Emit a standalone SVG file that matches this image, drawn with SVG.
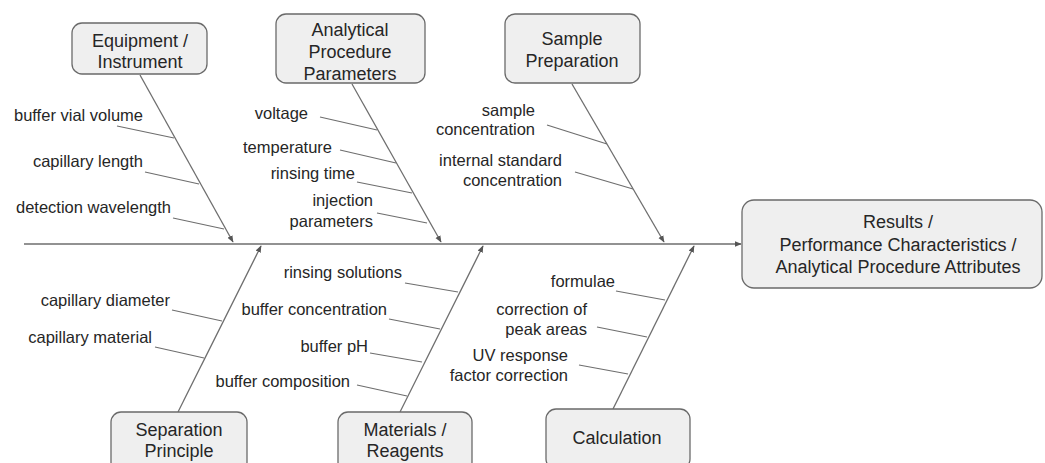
<svg xmlns="http://www.w3.org/2000/svg" width="1045" height="463" viewBox="0 0 1045 463">
<style>
.box{fill:#efefef;stroke:#6a6a6a;stroke-width:1.3}
.bt{font-family:"Liberation Sans",Arial,sans-serif;font-size:18px;fill:#262626;text-anchor:middle}
.lt{font-family:"Liberation Sans",Arial,sans-serif;font-size:16.5px;fill:#262626;text-anchor:end}
.bone{stroke:#6e6e6e;stroke-width:1.3;fill:none}
.sub{stroke:#6e6e6e;stroke-width:1.2;fill:none}
</style>
<defs>
<marker id="ah" viewBox="0 0 10 10" refX="9" refY="5" markerWidth="7" markerHeight="7" markerUnits="userSpaceOnUse" orient="auto">
<path d="M0,1 L10,5 L0,9 Z" fill="#555"/>
</marker>
</defs>
<rect width="1045" height="463" fill="#ffffff"/>
<g id="connectors">
<line class="bone" x1="24" y1="244" x2="741" y2="244" marker-end="url(#ah)"/>
<line class="bone" x1="140" y1="75" x2="233" y2="242" marker-end="url(#ah)"/>
<line class="bone" x1="352" y1="84" x2="441" y2="242" marker-end="url(#ah)"/>
<line class="bone" x1="572" y1="84" x2="664" y2="242" marker-end="url(#ah)"/>
<line class="bone" x1="178" y1="412" x2="261" y2="246" marker-end="url(#ah)"/>
<line class="bone" x1="400" y1="412" x2="483" y2="246" marker-end="url(#ah)"/>
<line class="bone" x1="613" y1="409" x2="694" y2="246" marker-end="url(#ah)"/>
<line class="sub" x1="117" y1="126" x2="174" y2="138"/>
<line class="sub" x1="145" y1="172" x2="199" y2="184"/>
<line class="sub" x1="173" y1="218" x2="224" y2="229"/>
<line class="sub" x1="320" y1="117" x2="377" y2="130"/>
<line class="sub" x1="340" y1="150" x2="396" y2="163"/>
<line class="sub" x1="357" y1="182" x2="412" y2="193"/>
<line class="sub" x1="377" y1="213" x2="427" y2="223"/>
<line class="sub" x1="547" y1="125" x2="607" y2="144"/>
<line class="sub" x1="575" y1="172" x2="633" y2="189"/>
<line class="sub" x1="172" y1="310" x2="222" y2="321"/>
<line class="sub" x1="155" y1="347" x2="204" y2="358"/>
<line class="sub" x1="405" y1="283" x2="458" y2="292"/>
<line class="sub" x1="389" y1="319" x2="440" y2="329"/>
<line class="sub" x1="370" y1="353" x2="422" y2="362"/>
<line class="sub" x1="357" y1="385" x2="407" y2="396"/>
<line class="sub" x1="616" y1="291" x2="665" y2="300"/>
<line class="sub" x1="597" y1="327" x2="647" y2="337"/>
<line class="sub" x1="579" y1="365" x2="628" y2="374"/>
</g>
<g id="labels">
<text class="lt" x="143" y="121">buffer vial volume</text>
<text class="lt" x="143" y="167">capillary length</text>
<text class="lt" x="171" y="213">detection wavelength</text>
<text class="lt" x="308" y="119">voltage</text>
<text class="lt" x="332" y="153">temperature</text>
<text class="lt" x="355" y="179">rinsing time</text>
<text class="lt" x="373" y="206">injection</text>
<text class="lt" x="373" y="227">parameters</text>
<text class="lt" x="535" y="116">sample</text>
<text class="lt" x="535" y="135">concentration</text>
<text class="lt" x="562" y="166">internal standard</text>
<text class="lt" x="562" y="186">concentration</text>
<text class="lt" x="170" y="306">capillary diameter</text>
<text class="lt" x="152" y="343">capillary material</text>
<text class="lt" x="402" y="278">rinsing solutions</text>
<text class="lt" x="387" y="315">buffer concentration</text>
<text class="lt" x="368" y="352">buffer pH</text>
<text class="lt" x="350" y="387">buffer composition</text>
<text class="lt" x="615" y="287">formulae</text>
<text class="lt" x="587" y="315">correction of</text>
<text class="lt" x="587" y="335">peak areas</text>
<text class="lt" x="568" y="361">UV response</text>
<text class="lt" x="568" y="381">factor correction</text>
</g>
<g id="equipment">
<rect class="box" x="72" y="23" width="135" height="51" rx="10"/>
<text class="bt" x="140" y="47">Equipment /</text>
<text class="bt" x="140" y="68">Instrument</text>
</g>
<g id="analytical">
<rect class="box" x="276" y="14" width="149" height="69" rx="10"/>
<text class="bt" x="350" y="36">Analytical</text>
<text class="bt" x="350" y="58">Procedure</text>
<text class="bt" x="350" y="80">Parameters</text>
</g>
<g id="sample">
<rect class="box" x="505" y="14" width="135" height="69" rx="10"/>
<text class="bt" x="572" y="45">Sample</text>
<text class="bt" x="572" y="67">Preparation</text>
</g>
<g id="separation">
<rect class="box" x="111" y="412" width="136" height="60" rx="10"/>
<text class="bt" x="179" y="436">Separation</text>
<text class="bt" x="179" y="457">Principle</text>
</g>
<g id="materials">
<rect class="box" x="338" y="412" width="134" height="60" rx="10"/>
<text class="bt" x="405" y="436">Materials /</text>
<text class="bt" x="405" y="457">Reagents</text>
</g>
<g id="calculation">
<rect class="box" x="546" y="409" width="144" height="60" rx="10"/>
<text class="bt" x="617" y="444">Calculation</text>
</g>
<g id="results">
<rect class="box" x="742" y="200" width="300" height="88" rx="12"/>
<text class="bt" x="898" y="228">Results /</text>
<text class="bt" x="898" y="251">Performance Characteristics /</text>
<text class="bt" x="898" y="273">Analytical Procedure Attributes</text>
</g>
</svg>
